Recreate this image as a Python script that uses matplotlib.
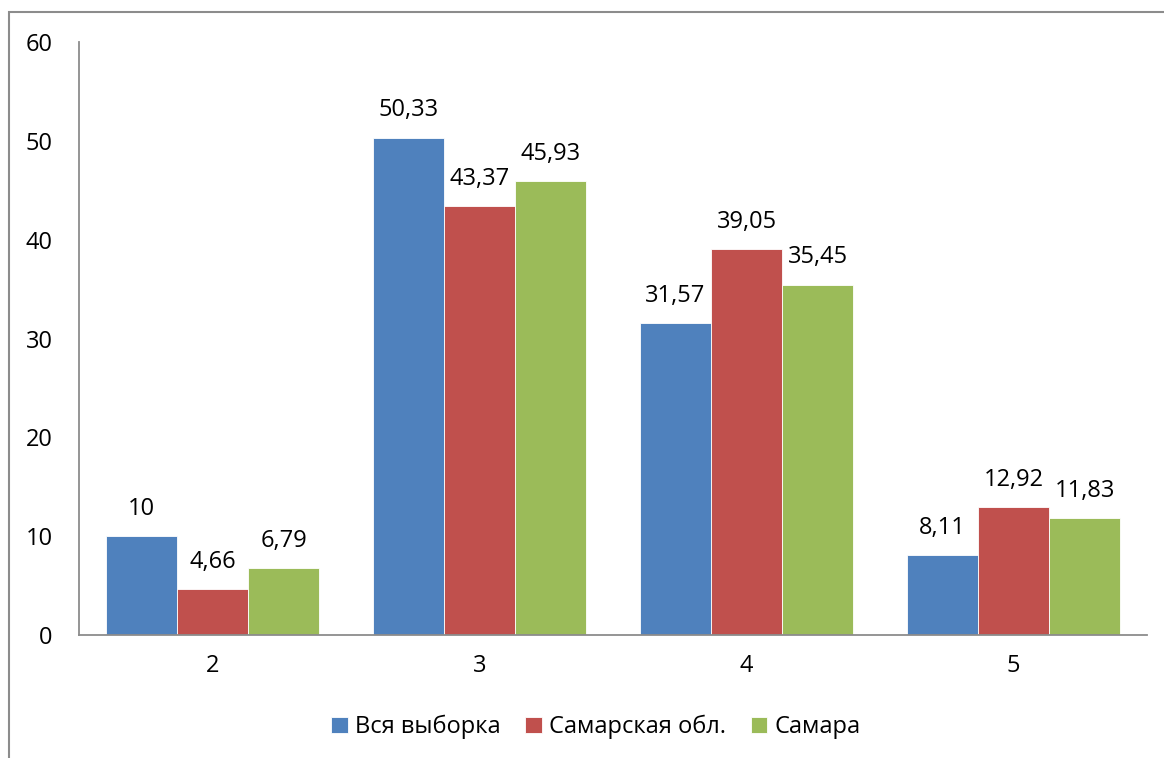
import matplotlib.pyplot as plt
from matplotlib.patches import Rectangle
import numpy as np

plt.rcParams['font.family'] = ['Open Sans', 'DejaVu Sans']

categories = ["2", "3", "4", "5"]
series_names = ["Вся выборка", "Самарская обл.", "Самара"]
vsya = [10, 50.33, 31.57, 8.11]
oblast = [4.66, 43.37, 39.05, 12.92]
samara = [6.79, 45.93, 35.45, 11.83]
colors = ["#4F81BD", "#C0504D", "#9BBB59"]


def fmt(v):
    s = ("%.2f" % v).rstrip("0").rstrip(".")
    return s.replace(".", ",")


fig = plt.figure(figsize=(11.64, 7.58), dpi=100)
ax = fig.add_axes([79 / 1164, 1 - 635 / 758, (1147 - 79) / 1164, (635 - 42) / 758])

x = np.arange(len(categories))
w = 0.266
for i, (vals, name) in enumerate(zip([vsya, oblast, samara], series_names)):
    pos = x + (i - 1) * w
    ax.bar(pos, vals, w, color=colors[i], label=name,
           edgecolor="white", linewidth=0.6)
    for xp, v in zip(pos, vals):
        ax.annotate(fmt(v), (xp, v), xytext=(0, 11), textcoords="offset points",
                    ha="center", va="bottom", fontsize=17)

ax.set_xlim(-0.5, 3.5)
ax.set_ylim(0, 60)
ax.set_yticks(range(0, 61, 10))
ax.set_xticks(x)
ax.set_xticklabels(categories)
ax.tick_params(length=0, labelsize=17)
ax.tick_params(axis="y", pad=19)
ax.tick_params(axis="x", pad=14)
for s in ["top", "right"]:
    ax.spines[s].set_visible(False)
for s in ["left", "bottom"]:
    ax.spines[s].set_color("#8c8c8c")
    ax.spines[s].set_linewidth(1.3)

fig.legend(loc="center", bbox_to_anchor=(596 / 1164, 1 - 727 / 758),
           ncol=3, frameon=False, fontsize=17, handlelength=0.7,
           handleheight=0.7, handletextpad=0.3, columnspacing=1.05)

# outer chart frame
fig.patches.append(Rectangle((9 / 1164, -0.1), 1.2, 1.1 - 12 / 758,
                             transform=fig.transFigure, fill=False,
                             edgecolor="#8c8c8c", linewidth=1.5))

fig.savefig("out.png", dpi=100)
